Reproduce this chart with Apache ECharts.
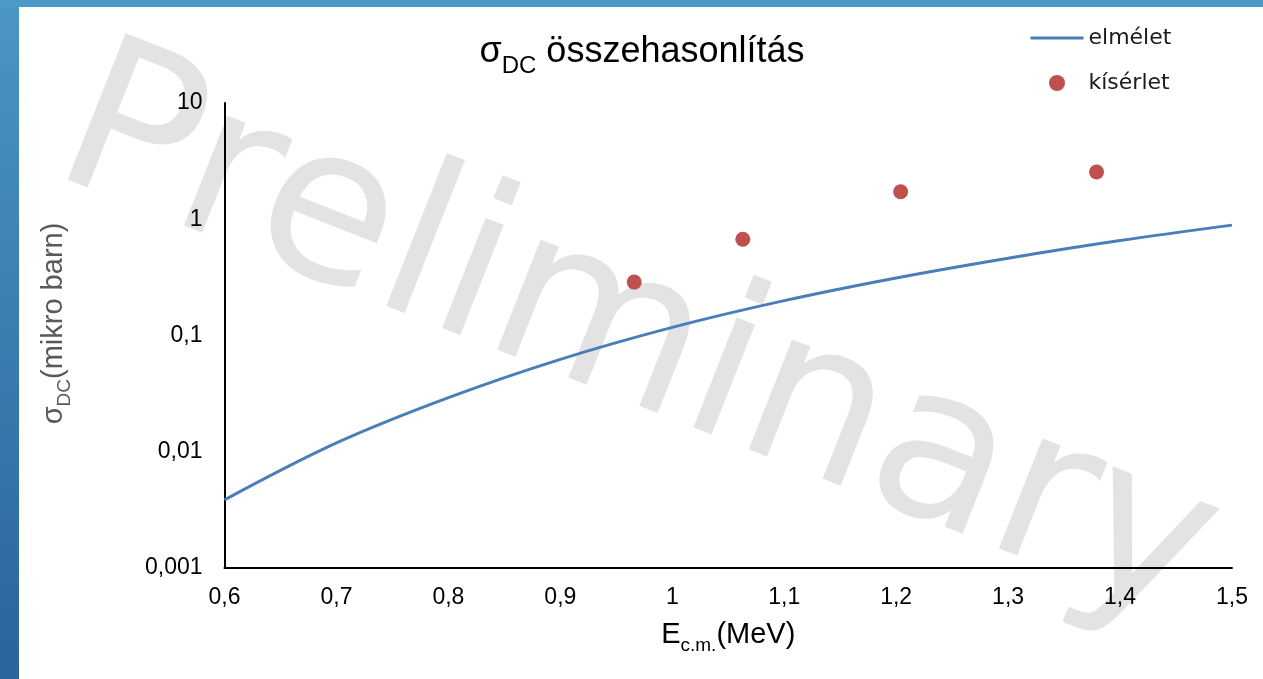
<!DOCTYPE html>
<html>
<head>
<meta charset="utf-8">
<script src="https://cdn.jsdelivr.net/npm/echarts@6/dist/echarts.min.js"></script>
<style>
  html, body { margin: 0; padding: 0; background: #ffffff; }
  #chart { width: 1263px; height: 679px; }
</style>
</head>
<body>
<div id="chart"></div>
<script>
// Theoretical cross section (elmélet) on a 0.1 MeV energy grid
const theoryEnergy = [0.6, 0.7, 0.8, 0.9, 1.0, 1.1, 1.2, 1.3, 1.4, 1.5];
const theorySigma  = [0.00385, 0.0119, 0.0292, 0.0624, 0.1175, 0.1995, 0.3126, 0.4624, 0.656, 0.89];

// Measured points (kísérlet)
const expEnergy = [0.966, 1.063, 1.204, 1.379];
const expSigma  = [0.288, 0.672, 1.726, 2.55];

const seriesNames = ['elmélet', 'kísérlet'];

const FONT = '"Liberation Sans", Arial, sans-serif';
const LEGEND_FONT = '"DejaVu Sans", sans-serif';

function commaNum(v) {
  return String(Number(v.toPrecision(6))).replace('.', ',');
}

const chart = echarts.init(document.getElementById('chart'), null, { renderer: 'canvas' });

chart.setOption({
  backgroundColor: '#ffffff',
  animation: false,
  title: {
    text: '{m|σ}{s|DC}{m| összehasonlítás}',
    left: 637,
    textAlign: 'center',
    top: 29,
    textStyle: {
      fontWeight: 'normal',
      rich: {
        m: { fontFamily: FONT, fontSize: 36, fontWeight: 'normal', color: '#000', lineHeight: 44, verticalAlign: 'bottom', padding: [0, 0, 8, 0] },
        s: { fontFamily: FONT, fontSize: 24, fontWeight: 'normal', color: '#000', lineHeight: 44, verticalAlign: 'bottom' }
      }
    }
  },
  legend: {
    orient: 'vertical',
    left: 1024,
    top: 22,
    itemWidth: 53,
    itemHeight: 16,
    itemGap: 23,
    data: [
      { name: seriesNames[0], itemStyle: { opacity: 0 }, lineStyle: { width: 3, color: '#4a7ebb' } },
      { name: seriesNames[1], icon: 'circle' }
    ],
    textStyle: { fontFamily: LEGEND_FONT, fontSize: 22, color: '#1a1a1a' }
  },
  grid: { left: 224.5, right: 31, top: 103, bottom: 111, containLabel: false },
  xAxis: {
    type: 'value',
    min: 0.6,
    max: 1.5,
    interval: 0.1,
    name: '{m|E}{s|c.m.}{m|(MeV)}',
    nameLocation: 'middle',
    nameGap: 51,
    nameTextStyle: {
      rich: {
        m: { fontFamily: FONT, fontSize: 29, color: '#000', lineHeight: 36, verticalAlign: 'bottom', padding: [0, 0, 6, 0] },
        s: { fontFamily: FONT, fontSize: 19, color: '#000', lineHeight: 36, verticalAlign: 'bottom' }
      }
    },
    axisLine: { show: true, lineStyle: { color: '#000', width: 2 } },
    axisTick: { show: false },
    splitLine: { show: false },
    axisLabel: {
      margin: 18,
      fontFamily: FONT,
      fontSize: 23,
      color: '#000',
      formatter: v => String(Math.round(v * 10) / 10).replace('.', ',')
    }
  },
  yAxis: {
    type: 'log',
    logBase: 10,
    min: 0.001,
    max: 10,
    name: '{m|σ}{s|DC}{m|(mikro barn)}',
    nameLocation: 'middle',
    nameRotate: 90,
    nameGap: 150,
    nameTextStyle: {
      padding: [0, 0, 0, 24],
      rich: {
        m: { fontFamily: FONT, fontSize: 29, color: '#595959', lineHeight: 36, verticalAlign: 'bottom', padding: [0, 0, 6, 0] },
        s: { fontFamily: FONT, fontSize: 19, color: '#595959', lineHeight: 36, verticalAlign: 'bottom' }
      }
    },
    axisLine: { show: true, lineStyle: { color: '#000', width: 2 } },
    axisTick: { show: false },
    splitLine: { show: false },
    axisLabel: {
      margin: 22,
      fontFamily: FONT,
      fontSize: 23,
      color: '#000',
      formatter: v => commaNum(v)
    }
  },
  graphic: [
    // slide frame: left band and top band
    {
      type: 'rect', left: 0, top: 0, z: 100,
      shape: { width: 19, height: 679 },
      style: {
        fill: new echarts.graphic.LinearGradient(0, 0, 0, 1, [
          { offset: 0, color: '#4a96c6' },
          { offset: 1, color: '#2a649c' }
        ])
      }
    },
    {
      type: 'rect', left: 0, top: 0, z: 100,
      shape: { width: 1263, height: 7 },
      style: { fill: '#4b9ac8' }
    },
    // watermark, slightly thinned with a white outline
    {
      type: 'text', x: 29, y: 220, rotation: -0.377, z: -10, silent: true,
      style: {
        text: 'Preliminary',
        font: '216px "DejaVu Sans", sans-serif',
        fill: '#e3e3e3',
        stroke: '#ffffff',
        lineWidth: 7,
        align: 'left',
        verticalAlign: 'bottom'
      }
    }
  ],
  series: [
    {
      name: seriesNames[0],
      type: 'line',
      data: theoryEnergy.map((e, i) => [e, theorySigma[i]]),
      symbol: 'none',
      smooth: 0.35,
      lineStyle: { color: '#4a7ebb', width: 3 },
      itemStyle: { color: '#4a7ebb' },
      z: 3
    },
    {
      name: seriesNames[1],
      type: 'scatter',
      data: expEnergy.map((e, i) => [e, expSigma[i]]),
      symbol: 'circle',
      symbolSize: 15,
      itemStyle: { color: '#c0504d', opacity: 1 },
      z: 4
    }
  ]
});
</script>
</body>
</html>
